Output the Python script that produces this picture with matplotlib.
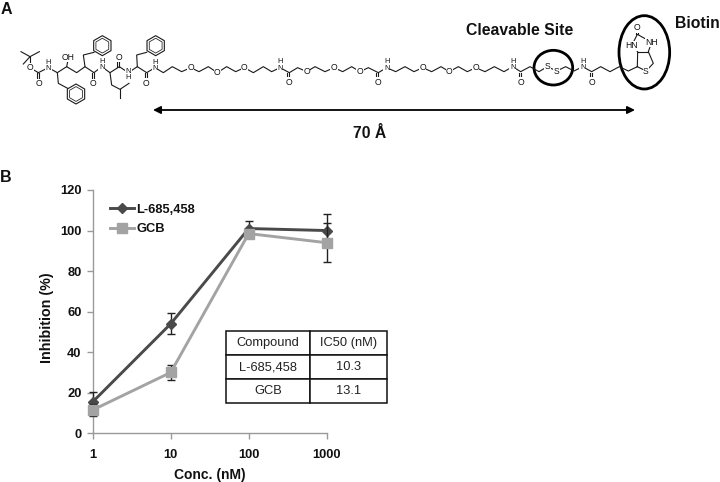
import matplotlib
matplotlib.use("Agg")
import matplotlib.pyplot as plt
from matplotlib.patches import Ellipse, RegularPolygon

plt.rcParams['font.family'] = ['Liberation Sans', 'DejaVu Sans']

W, H = 720, 482
conc = [1, 10, 100, 1000]
l685 = [15.5, 54, 101, 100]
l685_err = [5, 5.2, 3.5, 8.3]
gcb = [11.5, 30, 98.5, 94]
gcb_err = [3, 3.5, 2, 9.5]
series_names = ['L-685,458', 'GCB']
table_rows = [['Compound', 'IC50 (nM)'], ['L-685,458', '10.3'], ['GCB', '13.1']]
yticks = [0, 20, 40, 60, 80, 100, 120]

fig = plt.figure(figsize=(W / 100, H / 100), dpi=100)
ov = fig.add_axes([0, 0, 1, 1])
ov.set_xlim(0, W)
ov.set_ylim(H, 0)
ov.axis('off')

# ---- panel A: structure, coordinates in pixels x 3


def z2(pts):
    return [(x / 3, y / 3) for x, y in pts]


def z3(pts):
    return [(360 + x / 3, y / 3) for x, y in pts]


def bond(pts, lw=0.8):
    ov.plot([p[0] for p in pts], [p[1] for p in pts], color='#1a1a1a', lw=lw,
            solid_joinstyle='miter')


def atom(x, y, s, fs=6.2):
    ov.text(x, y, s, fontsize=fs, ha='center', va='center', color='#111111', linespacing=0.9,
            bbox=dict(fc='white', ec='none', pad=0.3))


backbone_a = [(115, 218), (145, 203), (172, 218), (200, 200), (230, 218), (255, 200), (282, 218),
              (305, 200), (330, 218), (358, 200), (385, 218), (412, 200), (440, 218), (465, 203),
              (490, 218), (517, 200), (545, 215), (572, 203), (597, 215), (625, 200), (652, 218),
              (680, 200), (707, 215), (733, 203), (760, 218), (790, 200), (815, 215), (840, 203),
              (868, 218), (893, 203), (920, 215), (945, 200), (975, 215), (1002, 203), (1028, 215),
              (1055, 200), (1080, 215)]
backbone_b = [(0, 215), (25, 203), (55, 218), (80, 203), (107, 215), (135, 200), (162, 215), (188, 203),
              (215, 215), (243, 200), (268, 215), (295, 200), (322, 215), (347, 203), (375, 215),
              (403, 200), (432, 215), (458, 200), (482, 215), (510, 200), (537, 215), (562, 200),
              (590, 213), (617, 200), (642, 213), (668, 200), (695, 215), (722, 200), (750, 215),
              (778, 200), (805, 213), (832, 200), (858, 213), (880, 190), (865, 155), (875, 127),
              (832, 103), (815, 137), (833, 155), (832, 200)]
bond(z2(backbone_a))
bond(z3(backbone_b))
bond(z3([(833, 155), (865, 155)]))
bond(z3([(829, 103), (829, 84)]))
bond(z3([(835, 103), (835, 84)]))

for pts in ([(90, 170), (63, 155)], [(90, 170), (118, 155)], [(90, 170), (70, 192)], [(90, 170), (90, 203)],
            [(90, 203), (115, 218)], [(200, 200), (205, 175)],
            [(255, 200), (250, 165), (282, 157)], [(172, 218), (175, 250), (203, 265)],
            [(412, 200), (410, 165), (440, 157)],
            [(330, 218), (335, 255), (360, 268), (387, 250)], [(360, 268), (360, 295)]):
    bond(z2(pts))

for x, y, d in [(115, 218, 1), (278, 218, 1), (355, 200, -1), (437, 218, 1), (865, 218, 1)]:
    for off in (-3, 3):
        bond(z2([(x + off, y), (x + off, y + d * 28)]))
for x in (52, 479, 692):
    for off in (-3, 3):
        bond(z3([(x + off, 218), (x + off, 243)]))

for cx, cy in [(307, 137), (228, 282), (467, 137)]:
    ov.add_patch(RegularPolygon((cx / 3, cy / 3), 6, radius=10, orientation=0, fill=False,
                                ec='#1a1a1a', lw=0.8))
    ov.add_patch(RegularPolygon((cx / 3, cy / 3), 6, radius=7.4, orientation=0, fill=False,
                                ec='#1a1a1a', lw=0.55))

for x, y, s in [(90, 203, 'O'), (117, 251, 'O'), (145, 196, 'H\nN'), (205, 172, 'OH'), (278, 251, 'O'),
                (305, 194, 'H\nN'), (358, 172, 'O'), (385, 224, 'N\nH'), (439, 250, 'O'), (465, 196, 'H\nN'),
                (572, 203, 'O'), (652, 218, 'O'), (733, 203, 'O'), (840, 195, 'H\nN'), (868, 247, 'O'),
                (920, 215, 'O'), (1002, 203, 'O')]:
    atom(x / 3, y / 3, s, fs=6.2 if '\n' not in s else 5.4)
for x, y, s in [(0, 215, 'O'), (55, 247, 'O'), (80, 195, 'H\nN'), (188, 203, 'O'), (268, 215, 'O'),
                (347, 203, 'O'), (458, 194, 'H\nN'), (482, 247, 'O'), (562, 200, 'S'), (590, 213, 'S'),
                (668, 194, 'H\nN'), (695, 247, 'O'), (858, 213, 'S'), (815, 137, 'HN'), (875, 127, 'NH'),
                (832, 84, 'O')]:
    atom(360 + x / 3, y / 3, s, fs=6.2 if '\n' not in s else 5.4)

ov.add_patch(Ellipse((360 + 580 / 3, 203 / 3), 116 / 3, 104 / 3, fill=False, ec='black', lw=2.0))
ov.add_patch(Ellipse((360 + 853 / 3, 157 / 3), 152 / 3, 220 / 3, fill=False, ec='black', lw=2.0))
ov.annotate('', xy=(153, 110), xytext=(635, 110),
            arrowprops=dict(arrowstyle='<|-|>', color='black', lw=1.3, mutation_scale=11,
                            shrinkA=0, shrinkB=0))

bold = dict(fontweight='bold', color='#111111')
ov.text(1, 9, 'A', fontsize=11.5, ha='left', va='center', **bold)
ov.text(0, 178, 'B', fontsize=11.5, ha='left', va='center', **bold)
ov.text(520, 30.5, 'Cleavable Site', fontsize=11.3, ha='center', va='center', **bold)
ov.text(675, 23, 'Biotin', fontsize=11.3, ha='left', va='center', **bold)
ov.text(370, 133, '70 Å', fontsize=11.3, ha='center', va='center', **bold)

# ---- panel B: dose-response chart
x0, x1, y0, y1 = 92.7, 326.7, 433.3, 190.0
ax = fig.add_axes([x0 / W, 1 - y0 / H, (x1 - x0) / W, (y0 - y1) / H])
ax.patch.set_alpha(0)
ax.set_xscale('log')
ax.set_xlim(1, 1000)
ax.set_ylim(0, 120)
ax.minorticks_off()
ax.set_xticks(conc)
ax.set_xticklabels([str(c) for c in conc])
ax.set_yticks(yticks)
for s in ('top', 'right'):
    ax.spines[s].set_visible(False)
for s in ('left', 'bottom'):
    ax.spines[s].set_color('#9a9a9a')
    ax.spines[s].set_linewidth(1.0)
ax.tick_params(axis='both', length=4, width=1.0, color='#9a9a9a', labelsize=9.3, pad=4, labelcolor='#111111')
for lab in ax.get_xticklabels() + ax.get_yticklabels():
    lab.set_fontweight('bold')
ax.tick_params(axis='x', pad=7)
ax.set_xlabel('Conc. (nM)', fontsize=10, fontweight='bold', color='#111111', labelpad=5)
ax.set_ylabel('Inhibition (%)', fontsize=10.3, fontweight='bold', color='#111111')
ax.yaxis.set_label_coords((45 - x0 + 9) / (x1 - x0), 1 - (317.5 - y1) / (y0 - y1))

ax.errorbar(conc, l685, yerr=l685_err, color='#4a4a4a', lw=2.1, marker='D', ms=5,
            ecolor='#222222', elinewidth=1.0, capsize=2.6, capthick=1.0, clip_on=False,
            label=series_names[0], zorder=3)
ax.errorbar(conc, gcb, yerr=gcb_err, color='#a3a3a3', lw=2.1, marker='s', ms=7,
            ecolor='#222222', elinewidth=1.0, capsize=2.6, capthick=1.0, clip_on=False,
            label=series_names[1], zorder=4)
handles, labels = ax.get_legend_handles_labels()
handles = [h[0] for h in handles]
ax.legend(handles, labels, loc='upper left', bbox_to_anchor=(0.075, 0.943), frameon=False,
          prop=dict(size=9.3, weight='bold'), handlelength=1.85, handletextpad=0.15,
          labelspacing=0.55, borderpad=0, borderaxespad=0, labelcolor='#111111')

tx0, tx1, tx2 = 226, 310, 387
ty = [331, 355, 379, 403]
tax = fig.add_axes([tx0 / W, 1 - ty[-1] / H, (tx2 - tx0) / W, (ty[-1] - ty[0]) / H])
tax.axis('off')
tab = tax.table(cellText=table_rows, cellLoc='center', bbox=[0, 0, 1, 1],
                colWidths=[(tx1 - tx0) / (tx2 - tx0), (tx2 - tx1) / (tx2 - tx0)])
tab.auto_set_font_size(False)
tab.set_fontsize(9.3)
for cell in tab.get_celld().values():
    cell.set_linewidth(1.1)
    cell.set_edgecolor('#111111')
    cell.get_text().set_color('#222222')

fig.savefig('out.png', dpi=100)
